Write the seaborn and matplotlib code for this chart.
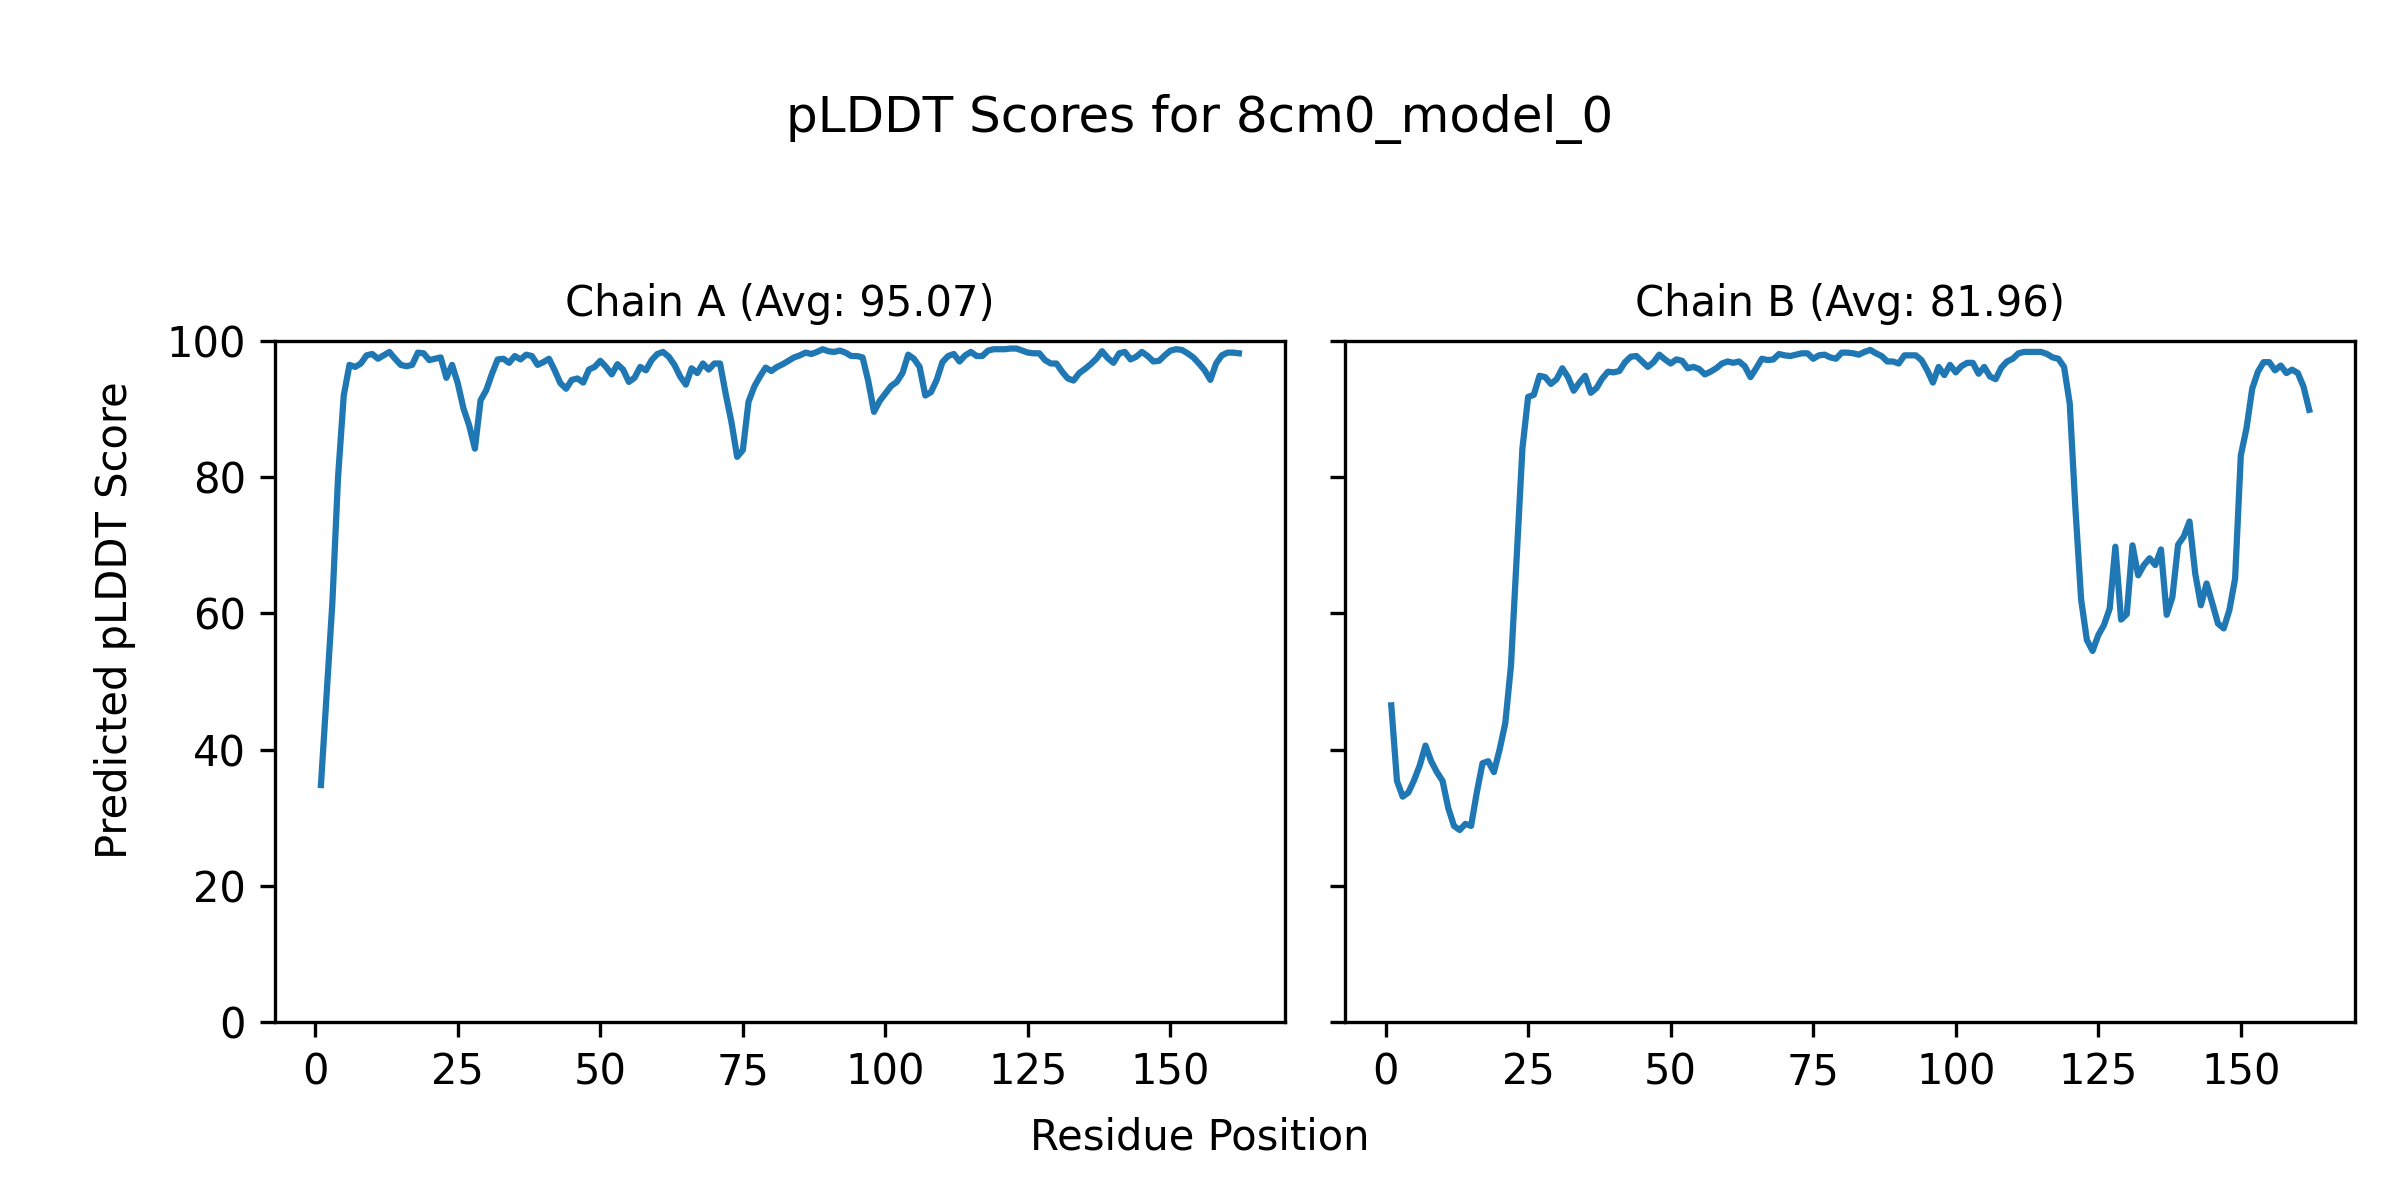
import numpy as np
import pandas as pd
import seaborn as sns
import matplotlib.pyplot as plt
from matplotlib.ticker import MultipleLocator

# values
model_name = "8cm0_model_0"
chain_ids = ["A", "B"]
chain_avgs = [95.07, 81.96]

plddt_a = [
    34.8, 48.2, 61.5, 80.0, 92.0, 96.5, 96.2, 96.7, 97.9, 98.1,
    97.4, 97.9, 98.4, 97.4, 96.5, 96.3, 96.5, 98.3, 98.2, 97.2,
    97.4, 97.6, 94.6, 96.5, 93.8, 90.1, 87.6, 84.2, 91.3, 92.8,
    95.2, 97.3, 97.4, 96.8, 97.8, 97.3, 98.0, 97.8, 96.5, 96.9,
    97.4, 95.7, 93.8, 93.0, 94.3, 94.5, 93.9, 95.8, 96.2, 97.1,
    96.2, 95.1, 96.6, 95.8, 94.0, 94.6, 96.2, 95.7, 97.2, 98.1,
    98.4, 97.7, 96.5, 94.8, 93.6, 96.0, 95.3, 96.7, 95.8, 96.7,
    96.7, 92.2, 88.1, 83.0, 84.0, 91.1, 93.3, 94.8, 96.1, 95.6,
    96.2, 96.6, 97.1, 97.6, 97.9, 98.3, 98.1, 98.4, 98.8, 98.5,
    98.4, 98.6, 98.3, 97.8, 97.8, 97.6, 94.1, 89.6, 91.2, 92.3,
    93.4, 94.0, 95.3, 98.0, 97.4, 96.2, 92.0, 92.5, 94.3, 96.9,
    97.8, 98.1, 97.0, 97.9, 98.4, 97.8, 97.8, 98.6, 98.8, 98.8,
    98.8, 98.9, 98.9, 98.6, 98.3, 98.2, 98.2, 97.2, 96.7, 96.7,
    95.5, 94.5, 94.2, 95.3, 95.9, 96.6, 97.4, 98.5, 97.5, 96.8,
    98.2, 98.4, 97.3, 97.7, 98.4, 97.8, 97.0, 97.1, 97.9, 98.6,
    98.8, 98.7, 98.2, 97.6, 96.7, 95.7, 94.3, 96.7, 97.9, 98.3,
    98.3, 98.2,
]

plddt_b = [
    46.5, 35.4, 33.1, 33.7, 35.5, 37.7, 40.6, 38.3, 36.7, 35.4,
    31.4, 28.8, 28.2, 29.1, 28.8, 33.7, 38.0, 38.3, 36.7, 40.0,
    43.9, 52.4, 68.2, 84.2, 91.8, 92.1, 94.9, 94.7, 93.7, 94.4,
    96.0, 94.7, 92.7, 93.9, 94.9, 92.4, 93.1, 94.5, 95.5, 95.4,
    95.6, 96.9, 97.7, 97.8, 97.0, 96.2, 96.9, 98.0, 97.3, 96.7,
    97.3, 97.1, 96.0, 96.2, 95.9, 95.1, 95.5, 96.0, 96.7, 97.0,
    96.8, 97.0, 96.3, 94.7, 96.0, 97.4, 97.2, 97.3, 98.1, 97.9,
    97.8, 98.0, 98.2, 98.2, 97.4, 97.9, 98.0, 97.6, 97.4, 98.3,
    98.3, 98.2, 98.0, 98.4, 98.7, 98.2, 97.8, 97.0, 97.0, 96.7,
    97.9, 97.9, 97.9, 97.2, 95.7, 93.9, 96.2, 95.0, 96.5, 95.4,
    96.3, 96.8, 96.8, 95.2, 96.2, 94.8, 94.4, 96.1, 97.0, 97.4,
    98.2, 98.4, 98.4, 98.4, 98.4, 98.1, 97.6, 97.4, 96.2, 90.8,
    75.3, 62.0, 56.1, 54.5, 56.8, 58.3, 60.7, 69.8, 59.1, 59.9,
    70.0, 65.6, 67.1, 68.1, 67.1, 69.4, 59.8, 62.4, 70.1, 71.3,
    73.5, 65.9, 61.2, 64.4, 61.5, 58.5, 57.8, 60.5, 65.1, 83.2,
    87.2, 93.0, 95.5, 96.9, 96.9, 95.7, 96.4, 95.3, 95.8, 95.3,
    93.3, 89.9,
]

fig, axes = plt.subplots(1, 2, figsize=(8, 4), dpi=300, sharey=True)

for ax, cid, avg, scores in zip(axes, chain_ids, chain_avgs, [plddt_a, plddt_b]):
    df = pd.DataFrame({"residue": np.arange(1, len(scores) + 1), "plddt": scores})
    sns.lineplot(data=df, x="residue", y="plddt", ax=ax, color="#1f77b4", linewidth=1.5)
    ax.set_title(f"Chain {cid} (Avg: {avg:.2f})", fontsize=10)
    ax.set_xlabel("")
    ax.set_ylabel("")
    ax.set_ylim(0, 100)
    ax.xaxis.set_major_locator(MultipleLocator(25))
    ax.tick_params(labelsize=10)

fig.subplots_adjust(left=0.1146, right=0.9813, top=0.7158, bottom=0.1483, wspace=0.06)
fig.suptitle(f"pLDDT Scores for {model_name}", fontsize=12, y=0.901, va="center")
fig.supxlabel("Residue Position", fontsize=10, y=0.0525, va="center")
fig.supylabel("Predicted pLDDT Score", fontsize=10, x=0.048, y=0.483, ha="center", va="center")

fig.savefig("out.png", dpi=300)
